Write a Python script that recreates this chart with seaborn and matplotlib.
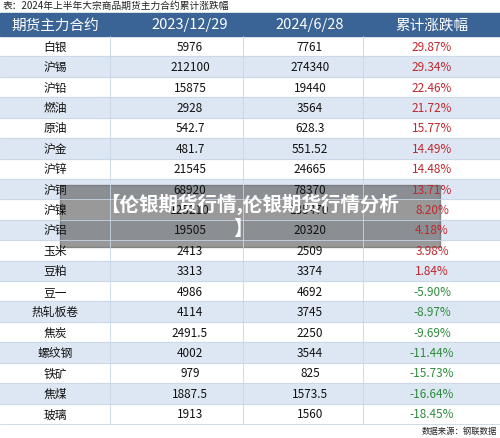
import matplotlib.pyplot as plt
import seaborn as sns
from matplotlib.patches import Rectangle

sns.set_theme(style="white")
plt.rcParams['font.family'] = ['Noto Sans CJK SC', 'DejaVu Sans']

names = ["白银", "沪锡", "沪铅", "燃油", "原油", "沪金", "沪锌", "沪铜", "沪镍", "沪铝",
         "玉米", "豆粕", "豆一", "热轧板卷", "焦炭", "螺纹钢", "铁矿", "焦煤", "玻璃"]
start = ["5976", "212100", "15875", "2928", "542.7", "481.7", "21545", "68920", "125210", "19505",
         "2413", "3313", "4986", "4114", "2491.5", "4002", "979", "1887.5", "1913"]
end = ["7761", "274340", "19440", "3564", "628.3", "551.52", "24665", "78370", "135470", "20320",
       "2509", "3374", "4692", "3745", "2250", "3544", "825", "1573.5", "1560"]
change = [29.87, 29.34, 22.46, 21.72, 15.77, 14.49, 14.48, 13.71, 8.20, 4.18,
          3.98, 1.84, -5.90, -8.97, -9.69, -11.44, -15.73, -16.64, -18.45]
headers = ["期货主力合约", "2023/12/29", "2024/6/28", "累计涨跌幅"]

W, H = 500, 439
fig = plt.figure(figsize=(W / 100, H / 100), dpi=100)
ax = fig.add_axes([0, 0, 1, 1])
ax.set_xlim(0, W)
ax.set_ylim(H, 0)
ax.axis("off")

col_x = [0, 110, 243, 363, 500]
col_c = [55, 190, 310, 432]
top, hh = 14, 23
rh = (425 - top - hh) / len(names)

ax.text(3, 6, "表：2024年上半年大宗商品期货主力合约累计涨跌幅", fontsize=7, va="center", color="#222")
ax.add_patch(Rectangle((0, top), W, hh, color="#3a6496"))
for i, h in enumerate(headers):
    ax.text(col_c[i], top + hh / 2, h, color="white", fontsize=10.5, ha="center", va="center")

for r in range(len(names)):
    y = top + hh + r * rh
    if r % 2 == 1:
        ax.add_patch(Rectangle((0, y), W, rh, color="#dde7f3"))
    ax.plot([0, W], [y + rh, y + rh], color="#c9d6e6", lw=0.6)
    c = "#c0272d" if change[r] > 0 else "#2e8b3c"
    vals = [names[r], start[r], end[r], f"{change[r]:.2f}%"]
    for i, v in enumerate(vals):
        ax.text(col_c[i], y + rh / 2, v, fontsize=8.5, ha="center", va="center",
                color=c if i == 3 else "#111")
for x in col_x[1:-1]:
    ax.plot([x, x], [top + hh, 425], color="#c9d6e6", lw=0.6)

ax.text(497, 431, "数据来源：钢联数据", fontsize=6, ha="right", va="center", color="#222")

ax.add_patch(Rectangle((60, 186), 380, 62, color="#555555", alpha=0.6))
ax.text(250, 204, "【伦银期货行情,伦银期货行情分析", fontsize=14, fontweight="bold",
        color="white", ha="center", va="center")
ax.text(243, 229, "】", fontsize=14, fontweight="bold", color="white", ha="center", va="center")

fig.savefig("out.png", dpi=100)
